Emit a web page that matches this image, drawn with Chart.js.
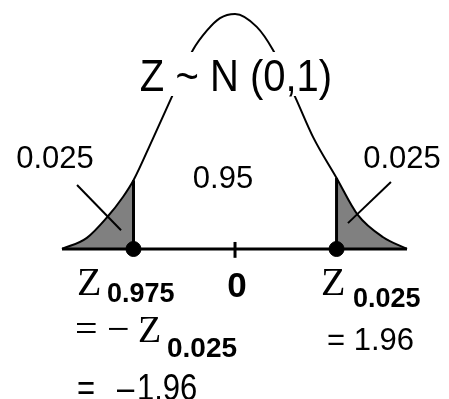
<!DOCTYPE html>
<html>
<head>
<meta charset="utf-8">
<script src="https://cdn.jsdelivr.net/npm/chart.js@4"></script>
<style>
	html, body { margin: 0; padding: 0; background: #fff; }
	#wrap { width: 449px; height: 399px; }
</style>
</head>
<body>
<div id="wrap"><canvas id="normalChart"></canvas></div>
<script>
// curve of the standard normal (z, density)
const curveX = [-3.34, -2.86, -2.47, -2.16, -1.96, -1.60, -1.22, -0.81, -0.54, -0.29, 0, 0.42, 0.73, 1.16, 1.51, 1.96, 2.37, 2.86, 3.32];
const curveY = [0, 0.019, 0.054, 0.089, 0.117, 0.185, 0.259, 0.339, 0.372, 0.393, 0.400, 0.378, 0.339, 0.259, 0.190, 0.121, 0.058, 0.020, 0];

const criticalZ = [-1.96, 1.96];
const criticalTop = [0.117, 0.121];
const axisEnds = [-3.34, 3.32];
const centerTick = [-0.015, 0.012];

// leader lines from the tail labels into the shaded areas
const leaderLeftX = [-3.05, -2.20];
const leaderLeftY = [0.109, 0.032];
const leaderRightX = [3.01, 2.18];
const leaderRightY = [0.114, 0.044];

const titleText = 'Z ~ N (0,1)';
const tailText = '0.025';
const middleText = '0.95';

function pts(xs, ys) {
	return xs.map(function(x, i) { return { x: x, y: ys[i] }; });
}

const curve = pts(curveX, curveY);
const leftTail = curve.filter(function(p) { return p.x <= criticalZ[0]; });
const rightTail = curve.filter(function(p) { return p.x >= criticalZ[1]; });

const sans = '"Liberation Sans", Arial, sans-serif';
const serif = '"Liberation Serif", "Times New Roman", serif';

function line(data, width, order) {
	return {
		data: data,
		showLine: true,
		borderColor: '#000',
		borderWidth: width,
		pointRadius: 0,
		fill: false,
		order: order
	};
}

const labelsPlugin = {
	id: 'labels',
	afterDatasetsDraw: function(chart) {
		const c = chart.ctx;
		c.save();
		// the title sits on a white band that cuts the curve
		c.fillStyle = '#fff';
		c.fillRect(140, 52, 194, 44);

		c.fillStyle = '#000';
		c.textBaseline = 'alphabetic';

		// text in the scan is a little taller than wide, hence the optional stretch
		function t(str, x, y, font, align, stretch) {
			c.save();
			c.translate(x, y);
			c.scale(1, stretch || 1);
			c.font = font;
			c.textAlign = align || 'left';
			c.fillText(str, 0, 0);
			c.restore();
		}

		t(titleText, 236, 91, '40px ' + sans, 'center', 1.1);
		t(tailText, 55, 168, '31px ' + sans, 'center');
		t(middleText, 223, 188, '31px ' + sans, 'center');
		t(tailText, 402, 168, '31px ' + sans, 'center');

		t('Z', 77, 295, '40px ' + serif);
		t('0.975', 107, 302, 'bold 27px ' + sans);
		t('0', 237, 297, 'bold 35px ' + sans, 'center');
		t('Z', 321, 295, '40px ' + serif);
		t('0.025', 353, 307, 'bold 27px ' + sans);

		t('=', 75, 342, '40px ' + serif);
		t('\u2212', 107, 342, '40px ' + serif);
		t('Z', 138, 342, '38px ' + serif);
		t('0.025', 167, 357, 'bold 28px ' + sans);

		t('= 1.96', 327, 350, '31px ' + sans);

		t('=', 77, 400, '31px ' + sans, 'left', 1.2);
		t('\u2013', 117, 400, '31px ' + sans, 'left', 1.2);
		t('1.96', 137, 400, '31px ' + sans, 'left', 1.2);
		c.restore();
	}
};

new Chart(document.getElementById('normalChart').getContext('2d'), {
	type: 'scatter',
	data: {
		datasets: [
			{
				data: pts(criticalZ, [0, 0]),
				pointRadius: 7.5,
				pointBackgroundColor: '#000',
				pointBorderColor: '#000',
				showLine: false,
				order: 0
			},
			line(pts([criticalZ[0], criticalZ[0]], [0, criticalTop[0]]), 3, 1),
			line(pts([criticalZ[1], criticalZ[1]], [0, criticalTop[1]]), 3, 1),
			line(pts(axisEnds, [0, 0]), 3, 2),
			line(pts([0, 0], centerTick), 3, 2),
			line(pts(leaderLeftX, leaderLeftY), 2, 2),
			line(pts(leaderRightX, leaderRightY), 2, 2),
			Object.assign(line(curve, 2, 3), { cubicInterpolationMode: 'monotone' }),
			Object.assign(line(leftTail, 0, 5), { cubicInterpolationMode: 'monotone', fill: 'origin', backgroundColor: '#808080' }),
			Object.assign(line(rightTail, 0, 5), { cubicInterpolationMode: 'monotone', fill: 'origin', backgroundColor: '#808080' })
		]
	},
	options: {
		responsive: true,
		maintainAspectRatio: false,
		animation: false,
		layout: { padding: 0, autoPadding: false },
		scales: {
			x: { type: 'linear', display: false, min: -4.537, max: 4.131 },
			y: { type: 'linear', display: false, min: -0.2553, max: 0.4238 }
		},
		plugins: {
			legend: { display: false },
			tooltip: { enabled: false }
		}
	},
	plugins: [labelsPlugin]
});
</script>
</body>
</html>
